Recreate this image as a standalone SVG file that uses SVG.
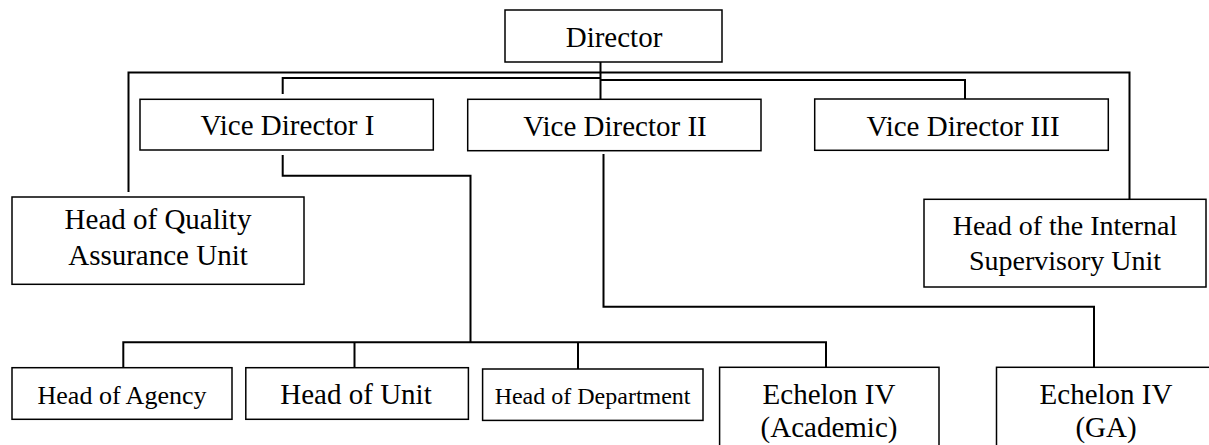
<svg xmlns="http://www.w3.org/2000/svg" width="1209" height="445" viewBox="0 0 1209 445">
<style>
.box{fill:#fff;stroke:#000;stroke-width:1.5}
.t{font-family:"Liberation Serif","Times New Roman",serif;fill:#000;text-anchor:middle}
.c{fill:none;stroke:#000;stroke-width:2}
</style>
<rect width="1209" height="445" fill="#fff"/>
<g id="connectors">
<path class="c" d="M600.5 62 V99"/>
<path class="c" d="M128.5 192 V72.5 H1129.5 V199"/>
<path class="c" d="M282.7 94 V78 H600.5"/>
<path class="c" d="M600.5 80 H965 V103"/>
<path class="c" d="M282.7 155 V175.7 H470.5 V342"/>
<path class="c" d="M123.3 367.7 V342.3 H826 V367.3"/>
<path class="c" d="M354.5 342.3 V367.7"/>
<path class="c" d="M578 342.3 V369"/>
<path class="c" d="M603.5 154 V306.7 H1094 V367.3"/>
</g>
<g id="director">
<rect class="box" x="505" y="10" width="217" height="52"/>
<text class="t" x="614" y="47" font-size="29">Director</text>
</g>
<g id="vice1">
<rect class="box" x="140" y="99.3" width="293.3" height="50.7"/>
<text class="t" x="287.5" y="135" font-size="29">Vice Director I</text>
</g>
<g id="vice2">
<rect class="box" x="467.7" y="99.3" width="293.3" height="51.4"/>
<text class="t" x="615" y="135.5" font-size="29">Vice Director II</text>
</g>
<g id="vice3">
<rect class="box" x="814.7" y="99" width="293.6" height="51.3"/>
<text class="t" x="963" y="135.5" font-size="29">Vice Director III</text>
</g>
<g id="qa">
<rect class="box" x="12" y="197" width="292" height="87.3"/>
<text class="t" x="158" y="229.3" font-size="29">Head of Quality</text>
<text class="t" x="158" y="265" font-size="29">Assurance Unit</text>
</g>
<g id="internal">
<rect class="box" x="924" y="199.3" width="282" height="87.7"/>
<text class="t" x="1065" y="235" font-size="28">Head of the Internal</text>
<text class="t" x="1065" y="270" font-size="28">Supervisory Unit</text>
</g>
<g id="agency">
<rect class="box" x="12" y="367.7" width="220" height="51.6"/>
<text class="t" x="122" y="404" font-size="26">Head of Agency</text>
</g>
<g id="unit">
<rect class="box" x="245.8" y="367.7" width="222.6" height="51.6"/>
<text class="t" x="356" y="404" font-size="29">Head of Unit</text>
</g>
<g id="department">
<rect class="box" x="482.6" y="369" width="220.4" height="51.4"/>
<text class="t" x="592.6" y="404" font-size="24">Head of Department</text>
</g>
<g id="echelon-academic">
<rect class="box" x="719.6" y="367.3" width="219.4" height="90"/>
<text class="t" x="829" y="404" font-size="29">Echelon IV</text>
<text class="t" x="829" y="437" font-size="29">(Academic)</text>
</g>
<g id="echelon-ga">
<rect class="box" x="996.5" y="367.3" width="219" height="90"/>
<text class="t" x="1106" y="404" font-size="29">Echelon IV</text>
<text class="t" x="1106" y="437" font-size="29">(GA)</text>
</g>
</svg>
